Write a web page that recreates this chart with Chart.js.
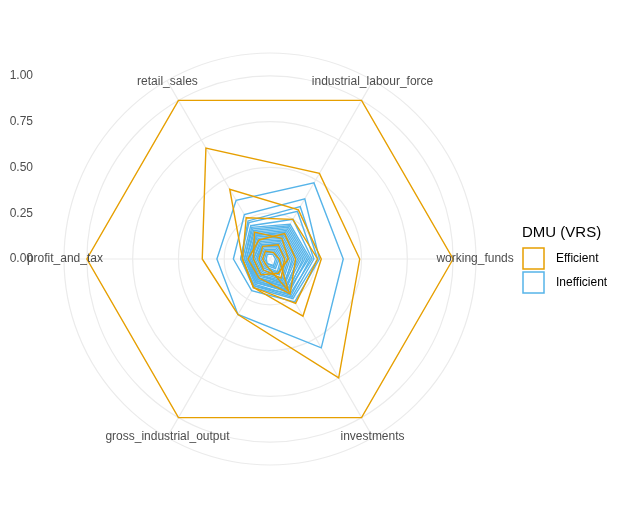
<!DOCTYPE html>
<html><head><meta charset="utf-8">
<script src="https://cdn.jsdelivr.net/npm/chart.js@4"></script>
<style>html,body{margin:0;padding:0;background:#fff}#w{width:624px;height:528px}</style>
</head><body><div id="w"><canvas id="c"></canvas></div>
<script>
// axes clockwise from right
const axes = ["working_funds","investments","gross_industrial_output","profit_and_tax","retail_sales","industrial_labour_force"];
const tickLabels = ["0.00","0.25","0.50","0.75","1.00"];
const tickValues = [0,0.25,0.5,0.75,1.0];
const efficient = [
  [1,1,1,1,1,1],
  [0.49,0.75,0.35,0.37,0.70,0.54],
  [0.28,0.36,0.18,0.15,0.44,0.31],
  [0.26,0.28,0.18,0.15,0.26,0.25],
  [0.14,0.22,0.12,0.12,0.12,0.16],
  [0.08,0.12,0.07,0.06,0.08,0.09],
  [0.05,0.20,0.04,0.04,0.05,0.04],
  [0.10,0.09,0.10,0.09,0.17,0.13]
];
const inefficient = [
  [0.40,0.56,0.35,0.29,0.37,0.48],
  [0.27,0.27,0.20,0.20,0.28,0.38],
  [0.26,0.25,0.18,0.16,0.24,0.33],
  [0.24,0.24,0.17,0.16,0.23,0.30],
  [0.23,0.22,0.17,0.15,0.21,0.25],
  [0.22,0.23,0.16,0.14,0.20,0.22],
  [0.21,0.20,0.15,0.14,0.19,0.21],
  [0.20,0.21,0.15,0.13,0.18,0.20],
  [0.19,0.19,0.14,0.13,0.17,0.19],
  [0.18,0.20,0.14,0.12,0.16,0.18],
  [0.17,0.18,0.13,0.12,0.15,0.17],
  [0.16,0.17,0.13,0.11,0.15,0.16],
  [0.15,0.18,0.12,0.11,0.14,0.15],
  [0.14,0.16,0.12,0.10,0.13,0.14],
  [0.13,0.15,0.11,0.10,0.12,0.13],
  [0.12,0.16,0.10,0.09,0.11,0.12],
  [0.11,0.14,0.10,0.09,0.10,0.11],
  [0.10,0.13,0.09,0.08,0.09,0.10],
  [0.09,0.12,0.08,0.07,0.09,0.09],
  [0.08,0.10,0.07,0.07,0.08,0.08],
  [0.07,0.09,0.06,0.06,0.07,0.07],
  [0.06,0.08,0.05,0.05,0.06,0.06],
  [0.05,0.06,0.04,0.04,0.05,0.05],
  [0.04,0.05,0.03,0.03,0.04,0.04],
  [0.03,0.04,0.03,0.02,0.03,0.03]
];
const ORANGE="#E69F00", BLUE="#56B4E9";
const datasets=[];
efficient.forEach((d,i)=>datasets.push({label:"Efficient",data:d,borderColor:ORANGE}));
inefficient.forEach((d,i)=>datasets.push({label:"Inefficient",data:d,borderColor:BLUE}));

const deco={id:"deco",afterDraw(chart){
  const ctx=chart.ctx, s=chart.scales.r;
  ctx.save();
  ctx.font="12px 'Liberation Sans', Arial, sans-serif";
  ctx.fillStyle="#4d4d4d";
  ctx.textAlign="right";ctx.textBaseline="middle";
  tickValues.forEach((v,i)=>{ctx.fillText(tickLabels[i],33,s.yCenter-s.getDistanceFromCenterForValue(v));});
  ctx.textAlign="center";
  axes.forEach((a,i)=>{const p=s.getPointPosition(i,s.getDistanceFromCenterForValue(1.12));ctx.fillText(a,p.x,p.y);});
  ctx.fillStyle="#000";ctx.textAlign="left";
  ctx.font="15px 'Liberation Sans', Arial, sans-serif";
  ctx.fillText("DMU (VRS)",522,233);
  ctx.font="12px 'Liberation Sans', Arial, sans-serif";
  [[ORANGE,"Efficient",259],[BLUE,"Inefficient",283]].forEach(([c,t,y])=>{
    ctx.strokeStyle=c;ctx.lineWidth=1.5;ctx.strokeRect(523,y-11,21,21);
    ctx.fillStyle="#000";ctx.fillText(t,556,y);
  });
  ctx.restore();
}};

new Chart(document.getElementById("c"),{
  type:"radar",
  data:{labels:axes,datasets},
  options:{responsive:true,maintainAspectRatio:false,animation:false,
    layout:{padding:{left:64,right:148,top:53,bottom:63}},
    plugins:{legend:{display:false},tooltip:{enabled:false}},
    elements:{point:{radius:0},line:{borderWidth:1.4,tension:0,fill:false}},
    scales:{r:{min:0,max:1.125,startAngle:90,
      ticks:{display:false,stepSize:0.25},
      grid:{circular:true,color:"#ebebeb",lineWidth:1.2},
      angleLines:{color:"#ebebeb",lineWidth:1.2},
      pointLabels:{display:false}}}
  },
  plugins:[deco]
});
</script></body></html>
